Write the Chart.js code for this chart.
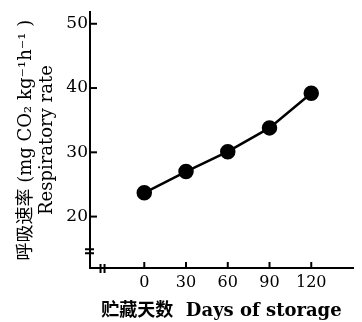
<!DOCTYPE html>
<html>
<head>
<meta charset="utf-8">
<script src="https://cdn.jsdelivr.net/npm/chart.js@4"></script>
<style>
  html, body { margin: 0; padding: 0; background: #fff; }
  #wrap { width: 362px; height: 322px; }
</style>
</head>
<body>
<div id="wrap"><canvas id="rateChart"></canvas></div>
<script>
  const days = [0, 30, 60, 90, 120];
  const rates = [23.7, 27.0, 30.1, 33.8, 39.2];
  const xTicks = [0, 30, 60, 90, 120];
  const yTicks = [20, 30, 40, 50];
  const yTitle = ['呼吸速率 (mg CO₂ kg⁻¹h⁻¹ )', 'Respiratory rate'];
  const xTitle = '贮藏天数  Days of storage';

  const serif = "'DejaVu Serif', 'Noto Sans CJK SC', serif";

  // inward ticks + axis break marks
  const axisDeco = {
    id: 'axisDeco',
    afterDraw(chart) {
      const ctx = chart.ctx;
      const xs = chart.scales.x, ys = chart.scales.y;
      const left = chart.chartArea.left, bottom = chart.chartArea.bottom;
      ctx.save();
      ctx.strokeStyle = '#000';
      ctx.lineWidth = 2;
      yTicks.forEach(v => {
        const py = ys.getPixelForValue(v);
        ctx.beginPath(); ctx.moveTo(left, py); ctx.lineTo(left + 7, py); ctx.stroke();
      });
      xTicks.forEach(v => {
        const px = xs.getPixelForValue(v);
        ctx.beginPath(); ctx.moveTo(px, bottom); ctx.lineTo(px, bottom - 6); ctx.stroke();
      });
      // y break
      const by = ys.getPixelForValue(14.6);
      ctx.beginPath();
      ctx.moveTo(left - 5, by - 2); ctx.lineTo(left + 4, by - 2);
      ctx.moveTo(left - 5, by + 2); ctx.lineTo(left + 4, by + 2);
      ctx.stroke();
      // x break
      const bx = xs.getPixelForValue(-30);
      ctx.beginPath();
      ctx.moveTo(bx - 2, bottom - 4); ctx.lineTo(bx - 2, bottom + 5);
      ctx.moveTo(bx + 2, bottom - 4); ctx.lineTo(bx + 2, bottom + 5);
      ctx.stroke();
      ctx.restore();
    }
  };

  const ctx = document.getElementById('rateChart').getContext('2d');
  new Chart(ctx, {
    type: 'line',
    data: {
      datasets: [{
        data: days.map((d, i) => ({ x: d, y: rates[i] })),
        borderColor: '#000',
        backgroundColor: '#000',
        borderWidth: 2.5,
        pointRadius: 6.5,
        pointHoverRadius: 6.5,
        tension: 0
      }]
    },
    options: {
      responsive: true,
      maintainAspectRatio: false,
      animation: false,
      layout: { padding: { top: 8, right: 5, left: 0, bottom: 0 } },
      plugins: {
        legend: { display: false },
        tooltip: { enabled: false }
      },
      scales: {
        x: {
          type: 'linear',
          min: -39,
          max: 150,
          afterBuildTicks(s) { s.ticks = xTicks.map(v => ({ value: v })); },
          afterFit(s) { s.height = 54; },
          grid: { display: false, drawTicks: false },
          border: { display: true, color: '#000', width: 2 },
          ticks: { color: '#000', padding: 5, font: { family: serif, size: 16 } },
          title: {
            display: true, text: xTitle, color: '#000', padding: { top: 0, bottom: 0 },
            font: { family: serif, size: 18, weight: 'bold' }
          }
        },
        y: {
          min: 12,
          max: 51.8,
          afterBuildTicks(s) { s.ticks = yTicks.map(v => ({ value: v })); },
          afterFit(s) { s.width = 90; },
          grid: { display: false, drawTicks: false },
          border: { display: true, color: '#000', width: 2 },
          ticks: { color: '#000', padding: 2, font: { family: serif, size: 17 } },
          title: {
            display: true, text: yTitle, color: '#000', padding: { top: 16, bottom: 4 },
            font: { family: serif, size: 18, lineHeight: 1.15 }
          }
        }
      }
    },
    plugins: [axisDeco]
  });
</script>
</body>
</html>
